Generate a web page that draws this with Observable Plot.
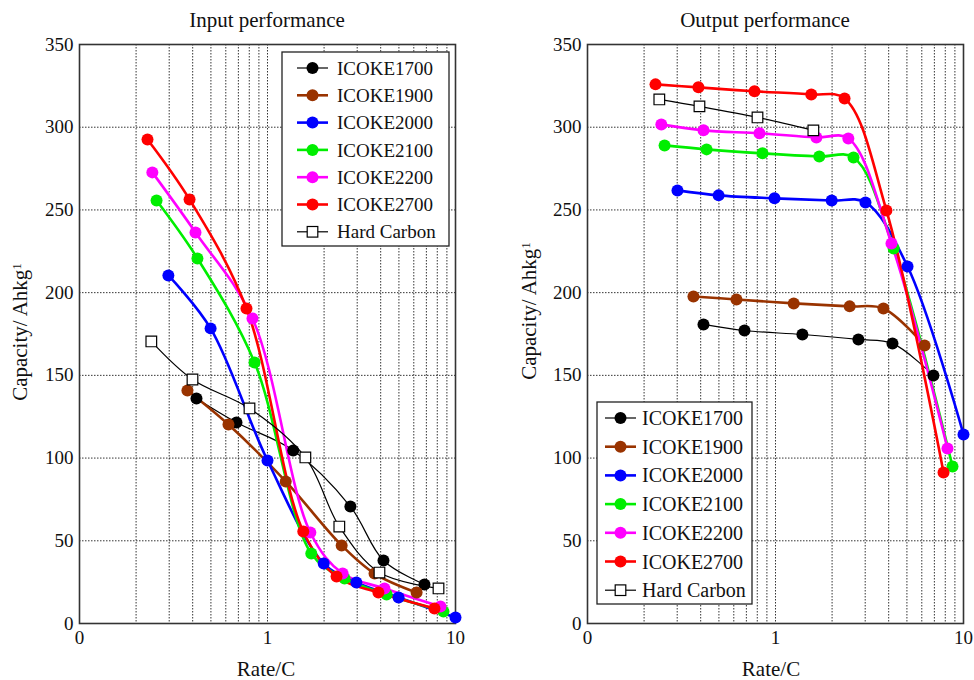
<!DOCTYPE html>
<html><head><meta charset="utf-8">
<script src="https://cdn.jsdelivr.net/npm/d3@7"></script>
<script src="https://cdn.jsdelivr.net/npm/@observablehq/plot@0.6"></script>
<style>
body{margin:0;background:#fff;font-family:"Liberation Serif","Times New Roman",serif;}
#wrap{display:flex;width:974px;height:680px;overflow:hidden;}
#wrap svg{display:block;}
</style></head><body><div id="wrap"></div>
<script>
// ---------- series ----------
const seriesNames  = ["ICOKE1700","ICOKE1900","ICOKE2000","ICOKE2100","ICOKE2200","ICOKE2700","Hard Carbon"];
const seriesColors = ["#000000","#993300","#0000ff","#00ee00","#ff00ff","#ff0000","#000000"];

// ---------- Input performance ----------
const inRate1700 = [0.419, 0.684, 1.37, 2.76, 4.14, 6.84];
const inCap1700  = [136.0, 121.5, 104.6, 70.7, 38.1, 23.6];
const inRate1900 = [0.375, 0.620, 1.25, 2.48, 3.71, 6.21];
const inCap1900  = [140.9, 120.3, 85.9, 47.2, 30.2, 18.7];
const inRate2000 = [0.297, 0.498, 1.00, 1.99, 2.97, 4.98, 10.0];
const inCap2000  = [210.4, 178.4, 98.5, 36.3, 24.8, 15.7, 3.6];
const inRate2100 = [0.257, 0.424, 0.853, 1.71, 2.57, 4.30, 8.63];
const inCap2100  = [255.7, 220.7, 157.8, 42.3, 27.2, 17.5, 7.3];
const inRate2200 = [0.244, 0.414, 0.832, 1.69, 2.51, 4.19, 8.32];
const inCap2200  = [272.7, 236.4, 184.4, 55.0, 30.2, 21.2, 10.3];
const inRate2700 = [0.230, 0.385, 0.773, 1.55, 2.33, 3.89, 7.73];
const inCap2700  = [292.6, 256.3, 190.4, 55.6, 28.4, 18.7, 9.1];
const inRateHC   = [0.241, 0.399, 0.802, 1.59, 2.41, 3.94, 8.12];
const inCapHC    = [170.5, 147.5, 130.0, 100.4, 58.6, 30.8, 21.2];

// ---------- Output performance ----------
const outRate1700 = [0.414, 0.684, 1.39, 2.76, 4.19, 6.92];
const outCap1700  = [180.8, 177.1, 174.7, 171.7, 169.3, 149.9];
const outRate1900 = [0.366, 0.620, 1.25, 2.48, 3.75, 6.21];
const outCap1900  = [197.7, 195.9, 193.5, 191.7, 190.4, 168.1];
const outRate2000 = [0.301, 0.498, 0.988, 1.99, 3.01, 5.04, 10.0];
const outCap2000  = [261.8, 258.8, 257.0, 255.7, 254.5, 215.8, 114.3];
const outRate2100 = [0.257, 0.430, 0.853, 1.71, 2.60, 4.25, 8.74];
const outCap2100  = [289.0, 286.6, 284.2, 282.3, 281.7, 226.7, 94.9];
const outRate2200 = [0.247, 0.414, 0.822, 1.65, 2.44, 4.14, 8.22];
const outCap2200  = [301.7, 298.1, 296.3, 293.8, 293.2, 229.7, 105.8];
const outRate2700 = [0.230, 0.389, 0.773, 1.55, 2.33, 3.89, 7.83];
const outCap2700  = [325.9, 324.1, 321.7, 319.8, 317.4, 249.7, 91.3];
const outRateHC   = [0.241, 0.394, 0.802, 1.59];
const outCapHC    = [316.8, 312.6, 305.9, 298.1];

// ---------- axes ----------
const xTicks = [0.1, 1, 10];
const xTickLabels = ["0", "1", "10"];
const xGrid = [0.2,0.3,0.4,0.5,0.6,0.7,0.8,0.9,1,2,3,4,5,6,7,8,9];
const yTicks = [0, 50, 100, 150, 200, 250, 300, 350];
const yGrid = [50, 100, 150, 200, 250, 300];

const inRates = [inRate1700, inRate1900, inRate2000, inRate2100, inRate2200, inRate2700, inRateHC];
const inCaps  = [inCap1700, inCap1900, inCap2000, inCap2100, inCap2200, inCap2700, inCapHC];
const outRates = [outRate1700, outRate1900, outRate2000, outRate2100, outRate2200, outRate2700, outRateHC];
const outCaps  = [outCap1700, outCap1900, outCap2000, outCap2100, outCap2200, outCap2700, outCapHC];

function rowsFor(rates, caps, i) {
  return rates[i].map((r, k) => ({rate: r, cap: caps[i][k], series: seriesNames[i]}));
}

function panel(rates, caps, cfg) {
  const lineMarks = [], dotMarks = [];
  seriesNames.forEach((name, i) => {
    const rows = rowsFor(rates, caps, i);
    const thin = (i === 0 || i === 6);
    lineMarks.push(Plot.line(rows, {x: "rate", y: "cap", stroke: seriesColors[i],
      strokeWidth: thin ? 1.2 : 2.6, curve: "catmull-rom"}));
    if (i === 6) {
      dotMarks.push(Plot.dot(rows, {x: "rate", y: "cap", symbol: "square", r: 6,
        fill: "white", stroke: "black", strokeWidth: 1.2}));
    } else {
      dotMarks.push(Plot.dot(rows, {x: "rate", y: "cap", r: 6, fill: seriesColors[i], stroke: "none"}));
    }
  });
  const svg = Plot.plot({
    width: 487, height: 680,
    marginLeft: cfg.ml, marginRight: cfg.mr, marginTop: 44, marginBottom: 57,
    style: {fontFamily: "'Liberation Serif','Times New Roman',serif", fontSize: "19px", background: "white", color: "#111"},
    x: {type: "log", domain: [0.1, 10], ticks: xTicks,
        tickFormat: d => xTickLabels[xTicks.indexOf(d)], tickSize: 0, tickPadding: 7, label: null},
    y: {domain: [0, 350], ticks: yTicks, tickSize: 0, tickPadding: 6, label: null},
    marks: [
      Plot.gridX(xGrid, {stroke: "#111", strokeOpacity: 0.85, strokeDasharray: "1.5,1.5", strokeWidth: 1}),
      Plot.gridY(yGrid, {stroke: "#111", strokeOpacity: 0.85, strokeDasharray: "1.5,1.5", strokeWidth: 1}),
      Plot.frame({stroke: "#333", strokeWidth: 1.6}),
      ...lineMarks,
      ...dotMarks
    ]
  });
  const s = d3.select(svg);
  const font = "'Liberation Serif','Times New Roman',serif";
  s.append("text").attr("x", cfg.titleX).attr("y", 27).attr("text-anchor", "middle")
    .attr("font-family", font).attr("font-size", 21).attr("fill", "#111").text(cfg.title);
  s.append("text").attr("x", cfg.xLabelX).attr("y", 676).attr("text-anchor", "middle")
    .attr("font-family", font).attr("font-size", 21).attr("fill", "#111").text("Rate/C");
  const yl = s.append("text").attr("transform", `translate(${cfg.yLabelX},${cfg.yLabelY}) rotate(-90)`)
    .attr("text-anchor", "middle").attr("font-family", font).attr("font-size", 21).attr("fill", "#111");
  yl.append("tspan").text("Capacity/ Ahkg");
  yl.append("tspan").attr("dy", "-0.45em").attr("font-size", 13).text("1");

  // legend
  const L = cfg.legend;
  const g = s.append("g").attr("text-anchor", "start");
  g.append("rect").attr("x", L.x0).attr("y", L.y0).attr("width", L.w).attr("height", L.h)
    .attr("fill", "white").attr("stroke", "#222").attr("stroke-width", 1.3);
  seriesNames.forEach((name, i) => {
    const y = L.first + i * L.step;
    const thin = (i === 0 || i === 6);
    g.append("line").attr("x1", L.lx).attr("x2", L.lx + 31).attr("y1", y).attr("y2", y)
      .attr("stroke", seriesColors[i]).attr("stroke-width", thin ? 1.2 : 2.6);
    if (i === 6) {
      g.append("rect").attr("x", L.lx + 15.5 - 5.3).attr("y", y - 5.3).attr("width", 10.6).attr("height", 10.6)
        .attr("fill", "white").attr("stroke", "black").attr("stroke-width", 1.2);
    } else {
      g.append("circle").attr("cx", L.lx + 15.5).attr("cy", y).attr("r", 6).attr("fill", seriesColors[i]);
    }
    g.append("text").attr("x", L.tx).attr("y", y).attr("dy", "0.35em").attr("text-anchor", "start")
      .attr("font-family", font).attr("font-size", L.fs).attr("fill", "#111").text(name);
  });
  return svg;
}

const wrap = document.getElementById("wrap");
wrap.appendChild(panel(inRates, inCaps, {
  ml: 79, mr: 32, title: "Input performance", titleX: 267, xLabelX: 266, yLabelX: 27, yLabelY: 332,
  legend: {x0: 282, y0: 52, w: 167, h: 194, first: 68, step: 27.3, lx: 297, tx: 337, fs: 19}
}));
wrap.appendChild(panel(outRates, outCaps, {
  ml: 100, mr: 11, title: "Output performance", titleX: 278, xLabelX: 284, yLabelX: 49, yLabelY: 311,
  legend: {x0: 110, y0: 402, w: 155, h: 202, first: 418, step: 28.7, lx: 118, tx: 155, fs: 20}
}));
</script></body></html>
